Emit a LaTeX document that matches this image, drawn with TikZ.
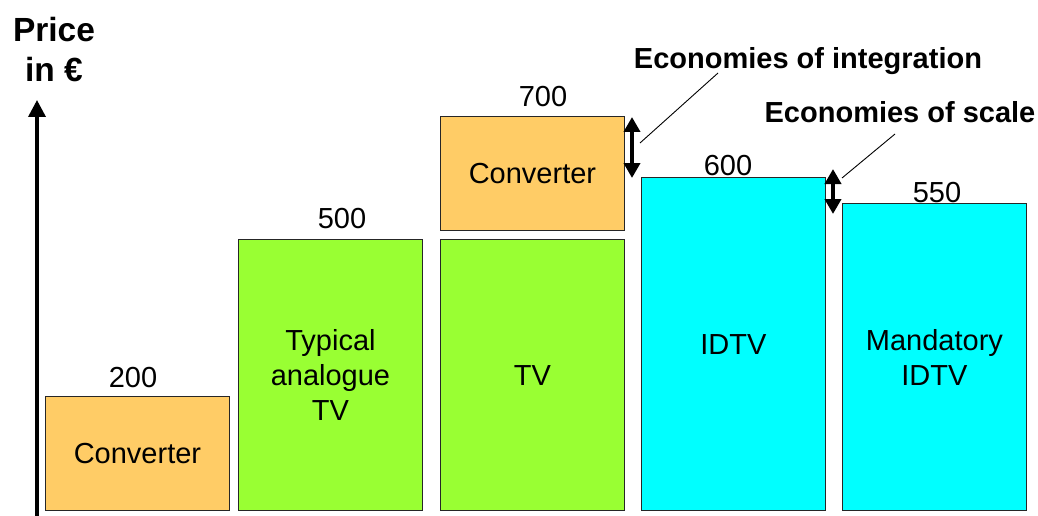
\documentclass[tikz,border=0pt]{standalone}
\usepackage{fontspec}
\setmainfont{Liberation Sans}
\usetikzlibrary{arrows.meta}
\definecolor{conv}{HTML}{FFCC66}
\definecolor{tvgreen}{HTML}{99FF33}
\definecolor{idtv}{HTML}{00FFFF}
\tikzset{
  bar/.style={draw=black!85, line width=0.9pt, anchor=south west, align=center,
    font=\fontsize{29}{35}\selectfont, inner sep=0pt},
  val/.style={font=\fontsize{29}{35}\selectfont, anchor=base, inner sep=0pt},
  lbl/.style={font=\fontsize{29}{35}\selectfont\bfseries, anchor=base, inner sep=0pt},
  ttl/.style={font=\fontsize{33.5}{40}\selectfont\bfseries, anchor=base, inner sep=0pt},
  dbl/.style={line width=4pt, {Triangle[width=16pt,length=15pt]}-{Triangle[width=16pt,length=15pt]}},
  leader/.style={line width=0.9pt}
}
\begin{document}
\begin{tikzpicture}[x=1pt,y=-1pt]
\useasboundingbox (0,0) rectangle (1038,516);
% axis
\coordinate (ax0) at (37,516);
\coordinate (ax1) at (37,100);
\draw[line width=3.5pt, -{Triangle[width=17pt,length=17pt]}] (ax0) -- (ax1);
\node[ttl] (price) at (54,42) {Price};
\node[ttl] (ineur) at (54,82) {in €};
% bars
\node[bar, fill=conv, minimum width=184pt, minimum height=114pt] (c1) at (45,511) {Converter};
\node[bar, fill=tvgreen, minimum width=184pt, minimum height=271pt] (atv) at (238,511) {Typical\\analogue\\TV};
\node[bar, fill=tvgreen, minimum width=184pt, minimum height=271pt] (tv) at (440,511) {TV};
\node[bar, fill=conv, minimum width=184pt, minimum height=114pt] (c2) at (440,231) {Converter};
\node[bar, fill=idtv, minimum width=184pt, minimum height=333pt] (idtv) at (641,511) {IDTV};
\node[bar, fill=idtv, minimum width=184pt, minimum height=307pt] (midtv) at (842,511) {Mandatory\\IDTV};
% values
\node[val] (v200) at (133,387) {200};
\node[val] (v500) at (342,228) {500};
\node[val] (v700) at (543,107) {700};
\node[val] (v600) at (728,175) {600};
\node[val] (v550) at (937,202) {550};
% annotations
\node[lbl] (ei) at (808,69) {Economies of integration};
\node[lbl] (es) at (900,123) {Economies of scale};
\coordinate (d1t) at (632,117);
\coordinate (d1b) at (632,178);
\draw[dbl] (d1t) -- (d1b);
\coordinate (d2t) at (833,169);
\coordinate (d2b) at (833,214);
\draw[dbl] (d2t) -- (d2b);
\coordinate (l1a) at (640,143);
\coordinate (l1b) at (718,73);
\draw[leader] (l1a) -- (l1b);
\coordinate (l2a) at (842,178);
\coordinate (l2b) at (895,134);
\draw[leader] (l2a) -- (l2b);
\end{tikzpicture}
\end{document}
